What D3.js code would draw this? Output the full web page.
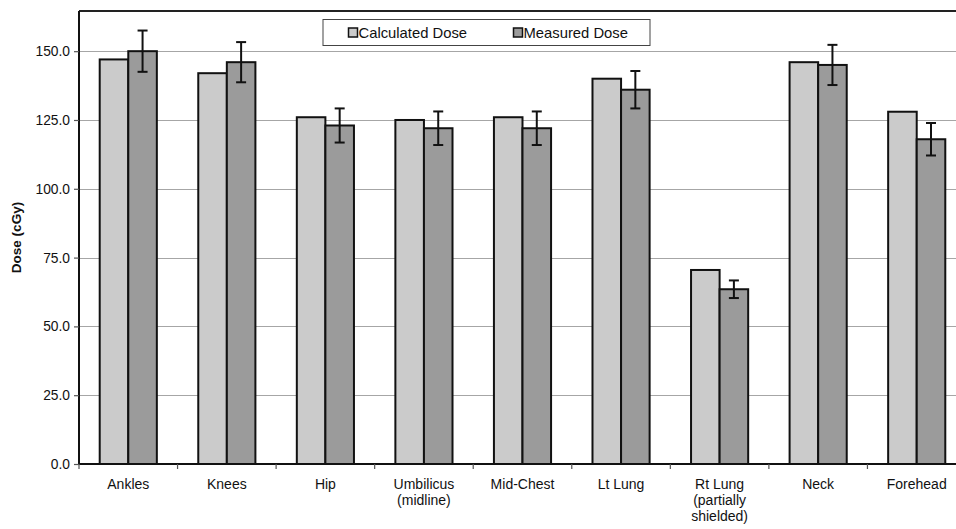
<!DOCTYPE html>
<html>
<head>
<meta charset="utf-8">
<script src="https://cdn.jsdelivr.net/npm/d3@7"></script>
<style>
  html, body { margin: 0; padding: 0; background: #fff; }
  svg { display: block; font-family: "Liberation Sans", Arial, Helvetica, sans-serif; }
</style>
</head>
<body>
<svg id="chart" width="956" height="529"></svg>
<script>
// Dose at each measurement site: calculated vs. measured (with error bars)
const sites = [
  ["Ankles"], ["Knees"], ["Hip"], ["Umbilicus", "(midline)"], ["Mid-Chest"],
  ["Lt Lung"], ["Rt Lung", "(partially", "shielded)"], ["Neck"], ["Forehead"]
];
const calculatedDose = [147, 142, 126, 125, 126, 140, 70.5, 146, 128];
const measuredDose   = [150, 146, 123, 122, 122, 136, 63.5, 145, 118];
const measuredError  = [7.5, 7.3, 6.2, 6.1, 6.1, 6.8, 3.2, 7.3, 5.9];
const yTicks = [0, 25, 50, 75, 100, 125, 150];
const seriesNames = ["Calculated Dose", "Measured Dose"];
const seriesColors = ["#cbcbcb", "#9b9b9b"];

const svg = d3.select("#chart");
const plot = { left: 79, right: 966, top: 11, bottom: 464 };

const x0 = d3.scaleBand()
  .domain(d3.range(sites.length))
  .range([plot.left, plot.right])
  .paddingInner(0).paddingOuter(0);

const bw = x0.bandwidth();
const barW = bw / 3.45;
const groupOffset = (bw - 2 * barW) / 2;

const y = d3.scaleLinear().domain([0, 164.6]).range([plot.bottom, plot.top]);

// horizontal gridlines
svg.append("g")
  .selectAll("line")
  .data(yTicks.filter(t => t > 0))
  .join("line")
  .attr("x1", plot.left).attr("x2", plot.right)
  .attr("y1", d => Math.round(y(d)) + 0.5).attr("y2", d => Math.round(y(d)) + 0.5)
  .attr("stroke", "#a6a6a6").attr("stroke-width", 1.2);

// top frame line
svg.append("line")
  .attr("x1", plot.left).attr("x2", plot.right)
  .attr("y1", plot.top).attr("y2", plot.top)
  .attr("stroke", "#222").attr("stroke-width", 2);

// bars
const groups = svg.append("g")
  .selectAll("g")
  .data(sites.map((s, i) => i))
  .join("g")
  .attr("transform", i => `translate(${x0(i) + groupOffset},0)`);

groups.append("rect")
  .attr("x", 0)
  .attr("y", i => y(calculatedDose[i]))
  .attr("width", barW)
  .attr("height", i => y(0) - y(calculatedDose[i]))
  .attr("fill", seriesColors[0]).attr("stroke", "#111").attr("stroke-width", 2);

groups.append("rect")
  .attr("x", barW)
  .attr("y", i => y(measuredDose[i]))
  .attr("width", barW)
  .attr("height", i => y(0) - y(measuredDose[i]))
  .attr("fill", seriesColors[1]).attr("stroke", "#111").attr("stroke-width", 2);

// error bars on measured dose
const eb = groups.append("g").attr("stroke", "#111").attr("stroke-width", 2);
eb.append("line")
  .attr("x1", barW * 1.5).attr("x2", barW * 1.5)
  .attr("y1", i => y(measuredDose[i] + measuredError[i]))
  .attr("y2", i => y(measuredDose[i] - measuredError[i]));
eb.append("line")
  .attr("x1", barW * 1.5 - 5).attr("x2", barW * 1.5 + 5)
  .attr("y1", i => y(measuredDose[i] + measuredError[i]))
  .attr("y2", i => y(measuredDose[i] + measuredError[i]));
eb.append("line")
  .attr("x1", barW * 1.5 - 5).attr("x2", barW * 1.5 + 5)
  .attr("y1", i => y(measuredDose[i] - measuredError[i]))
  .attr("y2", i => y(measuredDose[i] - measuredError[i]));

// y axis
const yAxis = svg.append("g")
  .attr("transform", `translate(${plot.left},0)`)
  .call(d3.axisLeft(y).tickValues(yTicks).tickFormat(d3.format(".1f")).tickSize(5).tickPadding(4));
yAxis.select(".domain").attr("stroke", "#111").attr("stroke-width", 2)
  .attr("d", `M0,${plot.top}V${plot.bottom}`);
yAxis.selectAll(".tick line").attr("stroke", "#555").attr("stroke-width", 1.2);
yAxis.selectAll(".tick text").attr("font-size", 13.8).attr("fill", "#111");

// x axis
const xAxisG = svg.append("g").attr("transform", `translate(0,${plot.bottom})`);
xAxisG.append("line")
  .attr("x1", plot.left).attr("x2", plot.right)
  .attr("stroke", "#111").attr("stroke-width", 2);
xAxisG.selectAll("line.tk")
  .data(d3.range(sites.length + 1))
  .join("line").attr("class", "tk")
  .attr("x1", i => i < sites.length ? x0(i) : plot.right)
  .attr("x2", i => i < sites.length ? x0(i) : plot.right)
  .attr("y1", 0).attr("y2", 5)
  .attr("stroke", "#555").attr("stroke-width", 1.2);

const labels = xAxisG.selectAll("text.cat")
  .data(sites)
  .join("text").attr("class", "cat")
  .attr("text-anchor", "middle")
  .attr("font-size", 14)
  .attr("fill", "#111")
  .attr("transform", (d, i) => `translate(${x0(i) + bw / 2},0)`);
labels.selectAll("tspan")
  .data(d => d)
  .join("tspan")
  .attr("x", 0)
  .attr("y", (d, j) => 25 + j * 16)
  .text(d => d);

// y axis title
svg.append("text")
  .attr("transform", `translate(21,${(plot.top + plot.bottom) / 2}) rotate(-90)`)
  .attr("text-anchor", "middle")
  .attr("font-size", 13.5).attr("font-weight", "bold").attr("fill", "#111")
  .text("Dose (cGy)");

// legend
const legend = svg.append("g");
legend.append("rect")
  .attr("x", 323).attr("y", 19.5).attr("width", 327).attr("height", 26)
  .attr("fill", "#fff").attr("stroke", "#444").attr("stroke-width", 1);
const legendX = [348.5, 513.5];
seriesNames.forEach((name, k) => {
  legend.append("rect")
    .attr("x", legendX[k]).attr("y", 28).attr("width", 9).attr("height", 9)
    .attr("fill", seriesColors[k]).attr("stroke", "#111").attr("stroke-width", 1.5);
  legend.append("text")
    .attr("x", legendX[k] + 10).attr("y", 38)
    .attr("font-size", 14.8).attr("fill", "#111")
    .text(name);
});
</script>
</body>
</html>
